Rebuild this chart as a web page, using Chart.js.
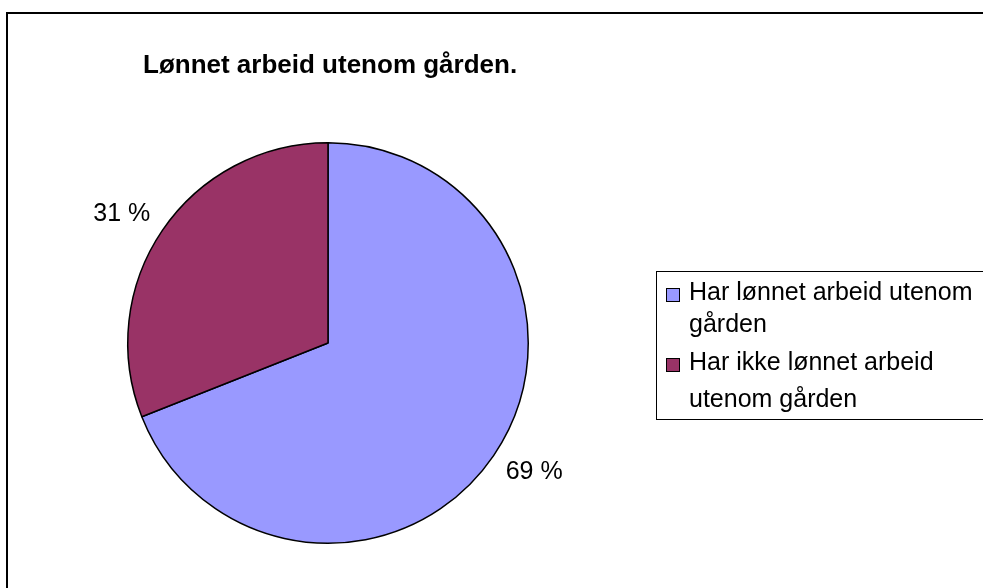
<!DOCTYPE html>
<html>
<head>
<meta charset="utf-8">
<script src="https://cdn.jsdelivr.net/npm/chart.js@4.4.1/dist/chart.umd.min.js"></script>
<style>
html,body{margin:0;padding:0;background:#fff;}
#wrap{width:983px;height:588px;position:relative;}
</style>
</head>
<body>
<div id="wrap"><canvas id="c" width="983" height="588"></canvas></div>
<script>
const titleText = "Lønnet arbeid utenom gården.";
const categories = ["Har lønnet arbeid utenom gården", "Har ikke lønnet arbeid utenom gården"];
const legendLines = [["Har lønnet arbeid utenom", "gården"], ["Har ikke lønnet arbeid", "utenom gården"]];
const values = [69, 31];
const valueLabels = ["69 %", "31 %"];
const colors = ["#9999FF", "#993366"];

const FONT = "'Liberation Sans', Arial, sans-serif";

const decor = {
  id: 'decor',
  beforeDraw(chart) {
    const ctx = chart.ctx;
    ctx.save();
    ctx.fillStyle = '#fff';
    ctx.fillRect(0, 0, chart.width, chart.height);
    ctx.strokeStyle = '#000';
    ctx.lineWidth = 2;
    ctx.strokeRect(7, 13, 1000, 700);
    ctx.restore();
  },
  afterDraw(chart) {
    const ctx = chart.ctx;
    ctx.save();
    // title
    ctx.fillStyle = '#000';
    ctx.font = "bold 26px " + FONT;
    ctx.textBaseline = 'alphabetic';
    ctx.textAlign = 'left';
    ctx.fillText(titleText, 143, 73);
    // value labels
    const meta = chart.getDatasetMeta(0);
    ctx.font = "25px " + FONT;
    ctx.textAlign = 'center';
    ctx.textBaseline = 'middle';
    meta.data.forEach((arc, i) => {
      const mid = (arc.startAngle + arc.endAngle) / 2;
      const x = arc.x + Math.cos(mid) * (arc.outerRadius + 49);
      const y = arc.y + Math.sin(mid) * (arc.outerRadius + 29);
      ctx.fillText(valueLabels[i], x, y);
    });
    // legend
    ctx.strokeStyle = '#000';
    ctx.lineWidth = 1;
    ctx.strokeRect(656.5, 271.5, 400, 148);
    ctx.font = "25px " + FONT;
    ctx.textAlign = 'left';
    ctx.textBaseline = 'alphabetic';
    const baselines = [[300, 332], [370, 407]];
    legendLines.forEach((lines, i) => {
      const by = baselines[i][0];
      ctx.fillStyle = colors[i];
      ctx.fillRect(666, by - 12, 14, 14);
      ctx.strokeStyle = '#000';
      ctx.strokeRect(666.5, by - 11.5, 13, 13);
      ctx.fillStyle = '#000';
      lines.forEach((ln, j) => ctx.fillText(ln, 689, baselines[i][j]));
    });
    ctx.restore();
  }
};

new Chart(document.getElementById('c'), {
  type: 'pie',
  data: {
    labels: categories,
    datasets: [{
      data: values,
      backgroundColor: colors,
      borderColor: '#000',
      borderWidth: 1.5,
      borderAlign: 'center'
    }]
  },
  options: {
    responsive: false,
    animation: false,
    events: [],
    layout: { padding: { left: 127, right: 454, top: 142, bottom: 44 } },
    plugins: {
      legend: { display: false },
      title: { display: false },
      tooltip: { enabled: false }
    }
  },
  plugins: [decor]
});
</script>
</body>
</html>
